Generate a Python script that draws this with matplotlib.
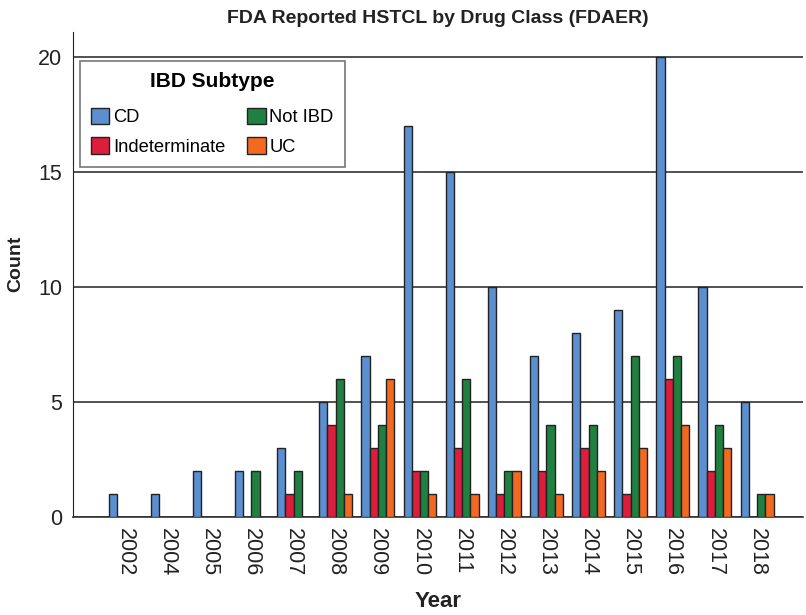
"""
FDA reported HSTCL by IBD subtype, grouped bars
"""

import matplotlib
matplotlib.use('Agg')
import matplotlib.pyplot as plt
import numpy as np
from matplotlib import font_manager

# Data
years = ['2002', '2004', '2005', '2006', '2007', '2008', '2009', '2010',
         '2011', '2012', '2013', '2014', '2015', '2016', '2017', '2018']
cd = [1, 1, 2, 2, 3, 5, 7, 17, 15, 10, 7, 8, 9, 20, 10, 5]
indeterminate = [0, 0, 0, 0, 1, 4, 3, 2, 3, 1, 2, 3, 1, 6, 2, 0]
not_ibd = [0, 0, 0, 2, 2, 6, 4, 2, 6, 2, 4, 4, 7, 7, 4, 1]
uc = [0, 0, 0, 0, 0, 1, 6, 1, 1, 2, 1, 2, 3, 4, 3, 1]

series = [('CD', cd, '#5b8fd0'),
          ('Indeterminate', indeterminate, '#dc1e3c'),
          ('Not IBD', not_ibd, '#1f8040'),
          ('UC', uc, '#f26a22')]

# Fonts: narrow bold for title/axis labels if available
names = {f.name for f in font_manager.fontManager.ttflist}
narrow = 'Liberation Sans Narrow' if 'Liberation Sans Narrow' in names else 'Liberation Sans'
plt.rcParams['font.family'] = ['Liberation Sans', 'DejaVu Sans']

fig = plt.figure(figsize=(8.06, 6.15), dpi=100)
ax = fig.add_axes([73 / 806, 1 - 517 / 615, 730 / 806, 485 / 615])

x = np.arange(len(years))
width = 0.195
for i, (name, vals, color) in enumerate(series):
    vals = np.array(vals)
    keep = vals > 0
    ax.bar(x[keep] + (i - 1.5) * width, vals[keep], width=width, color=color,
           edgecolor='#222222', linewidth=1.0, label=name, zorder=3)

ax.set_xlim(-1.234, 16.09)
ax.set_ylim(0, 21.07)
ax.set_yticks([0, 5, 10, 15, 20])
ax.set_xticks(x)
ax.set_xticklabels(years, rotation=270)
ax.tick_params(axis='both', length=0, labelsize=15.5, colors='#222222')
ax.tick_params(axis='x', pad=8)
ax.tick_params(axis='y', pad=8)
ax.yaxis.grid(True, color='#333333', linewidth=1.2)
ax.set_axisbelow(True)

for side in ['top', 'right']:
    ax.spines[side].set_visible(False)
ax.spines['left'].set_color('#222222')
ax.spines['bottom'].set_color('#333333')
ax.spines['bottom'].set_linewidth(1.2)

ax.set_title('FDA Reported HSTCL by Drug Class (FDAER)', fontsize=14,
             fontweight='bold', family=narrow, pad=6.5, color='#222222')
ax.set_xlabel('Year', fontsize=16, fontweight='bold', family=narrow, color='#222222')
ax.set_ylabel('Count', fontsize=14, fontweight='bold', family=narrow, color='#222222')
ax.xaxis.set_label_coords(0.5, -0.152)
ax.yaxis.set_label_coords(-0.067, 0.522)

leg = ax.legend(ncol=2, loc='upper left', bbox_to_anchor=(0.0096, 0.94),
                title='IBD Subtype', fontsize=13.2, frameon=True, fancybox=False,
                edgecolor='#555555', borderaxespad=0, handlelength=1.0,
                handleheight=1.0, handletextpad=0.2, columnspacing=1.2,
                borderpad=0.6, labelspacing=0.6)
leg.get_title().set_fontweight('bold')
leg.get_title().set_fontsize(15)
leg.get_frame().set_linewidth(1.2)
leg._legend_box.sep = 12

plt.savefig('out.png', dpi=100)
